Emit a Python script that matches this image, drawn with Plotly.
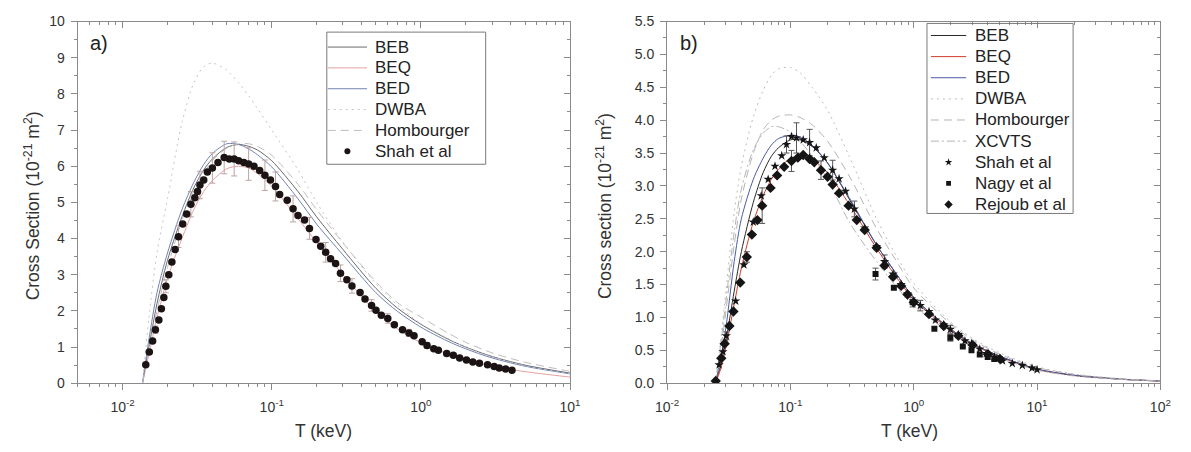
import math
import plotly.graph_objects as go

W, H = 1191, 452

# ---------------- Panel a) : theory curves ----------------
t_a = [0.0136, 0.015, 0.017, 0.02, 0.025, 0.03, 0.035, 0.04, 0.05, 0.06, 0.07, 0.08,
       0.1, 0.15, 0.2, 0.3, 0.5, 0.7, 1.0, 1.5, 2.0, 3.0, 5.0, 10.0]
beb_a = [0, 1.0, 2.2, 3.4, 4.6, 5.4, 5.9, 6.2, 6.52, 6.6, 6.55, 6.45,
         6.15, 5.3, 4.6, 3.7, 2.62, 2.07, 1.63, 1.23, 1.0, 0.74, 0.5, 0.28]
beq_a = [0, 0.8, 1.8, 2.9, 4.0, 4.8, 5.3, 5.6, 5.93, 6.0, 5.95, 5.8,
         5.45, 4.55, 3.9, 3.0, 1.98, 1.5, 1.12, 0.82, 0.65, 0.47, 0.32, 0.17]
bed_a = [0, 1.2, 2.5, 3.6, 4.8, 5.55, 6.05, 6.35, 6.62, 6.6, 6.48, 6.32,
         5.98, 5.1, 4.4, 3.55, 2.5, 1.98, 1.55, 1.17, 0.95, 0.7, 0.47, 0.26]
dwba_a = [0, 1.8, 3.6, 5.1, 7.2, 8.3, 8.75, 8.85, 8.65, 8.3, 7.95, 7.6,
          7.0, 5.9, 5.0, 3.9, 2.75, 2.15, 1.65, 1.25, 0.99, 0.73, 0.48, 0.26]
homb_a = [0, 0.9, 2.0, 3.2, 4.5, 5.3, 5.8, 6.15, 6.5, 6.62, 6.62, 6.55,
          6.3, 5.5, 4.8, 3.88, 2.8, 2.22, 1.83, 1.4, 1.13, 0.84, 0.58, 0.33]

# Panel a) : Shah et al data
shah_a_t = [0.0143, 0.0151, 0.0159, 0.0166, 0.0175, 0.0182, 0.0189, 0.0195, 0.0204, 0.0214,
            0.0225, 0.0237, 0.0253, 0.0269, 0.0287, 0.0305, 0.0318, 0.033, 0.035, 0.037,
            0.040, 0.0436, 0.048, 0.052, 0.056, 0.060, 0.065, 0.070, 0.076, 0.083,
            0.090, 0.098, 0.106, 0.113, 0.127, 0.139, 0.150, 0.166, 0.179, 0.198,
            0.213, 0.230, 0.248, 0.268, 0.289, 0.319, 0.345, 0.391, 0.422, 0.467,
            0.50, 0.543, 0.60, 0.664, 0.753, 0.832, 0.90, 1.02, 1.10, 1.22,
            1.31, 1.49, 1.65, 1.82, 2.02, 2.23, 2.47, 2.80, 3.10, 3.35, 3.70, 4.08]
shah_a_s = [0.51, 0.86, 1.17, 1.48, 1.75, 2.06, 2.37, 2.68, 3.0, 3.35,
            3.7, 4.05, 4.4, 4.68, 4.95, 5.13, 5.3, 5.48, 5.62, 5.84,
            5.95, 6.1, 6.24, 6.2, 6.2, 6.15, 6.1, 6.06, 6.0, 5.88,
            5.75, 5.62, 5.44, 5.22, 5.06, 4.82, 4.64, 4.51, 4.28, 3.97,
            3.79, 3.62, 3.44, 3.31, 3.04, 2.86, 2.69, 2.51, 2.33, 2.15,
            2.02, 1.88, 1.79, 1.62, 1.48, 1.39, 1.31, 1.15, 1.04, 0.95,
            0.91, 0.82, 0.77, 0.70, 0.64, 0.59, 0.55, 0.51, 0.46, 0.42, 0.39, 0.36]
shah_a_err = [0, 0, 0, 0.1, 0, 0, 0, 0.18, 0, 0,
              0, 0.3, 0, 0, 0.35, 0, 0, 0.38, 0, 0,
              0.42, 0, 0.45, 0, 0.47, 0, 0, 0.45, 0, 0,
              0.42, 0, 0.4, 0, 0, 0.36, 0, 0, 0.3, 0,
              0, 0.27, 0, 0, 0.23, 0, 0.2, 0, 0, 0.16,
              0, 0, 0.13, 0, 0, 0.1, 0, 0, 0.08, 0,
              0, 0.06, 0, 0, 0.05, 0, 0, 0.04, 0, 0, 0.03, 0]

# ---------------- Panel b) : theory curves ----------------
t_b = [0.0246, 0.027, 0.03, 0.035, 0.04, 0.05, 0.06, 0.07, 0.08, 0.1, 0.12, 0.15,
       0.2, 0.3, 0.5, 0.7, 1.0, 2.0, 3.0, 5.0, 10.0, 20.0, 50.0, 100.0]
beb_b = [0, 0.25, 0.65, 1.4, 2.0, 2.75, 3.2, 3.45, 3.58, 3.7, 3.7, 3.6,
         3.35, 2.8, 2.1, 1.7, 1.3, 0.82, 0.6, 0.41, 0.215, 0.12, 0.06, 0.034]
beq_b = [0, 0.2, 0.55, 1.2, 1.75, 2.45, 2.85, 3.1, 3.25, 3.42, 3.45, 3.4,
         3.2, 2.72, 2.05, 1.65, 1.27, 0.8, 0.59, 0.4, 0.21, 0.118, 0.058, 0.033]
bed_b = [0, 0.35, 0.85, 1.85, 2.5, 3.1, 3.42, 3.62, 3.72, 3.77, 3.74, 3.62,
         3.35, 2.82, 2.1, 1.7, 1.3, 0.82, 0.6, 0.41, 0.215, 0.12, 0.06, 0.034]
dwba_b = [0, 0.6, 1.4, 2.6, 3.3, 4.05, 4.45, 4.68, 4.78, 4.8, 4.72, 4.5,
          4.15, 3.45, 2.5, 1.98, 1.52, 0.93, 0.68, 0.46, 0.25, 0.14, 0.067, 0.037]
homb_b = [0, 0.45, 1.1, 2.1, 2.8, 3.5, 3.85, 4.0, 4.06, 4.08, 4.04, 3.93,
          3.68, 3.15, 2.35, 1.9, 1.45, 0.9, 0.66, 0.44, 0.24, 0.135, 0.065, 0.036]
xcvts_b = [0, 0.55, 1.25, 2.3, 2.95, 3.55, 3.8, 3.9, 3.9, 3.82, 3.68, 3.45,
           3.1, 2.45, 1.85, 1.5, 1.18, 0.76, 0.56, 0.38, 0.2, 0.11, 0.055, 0.031]

# Panel b) : experimental data
shah_b_t = [0.0264, 0.0284, 0.0302, 0.036, 0.042, 0.050, 0.058, 0.066, 0.075, 0.085,
            0.093, 0.102, 0.112, 0.127, 0.143, 0.162, 0.188, 0.22, 0.248, 0.28,
            0.33, 0.40, 0.50, 0.58, 0.68, 0.79, 0.89, 1.0, 1.13, 1.33,
            1.50, 1.75, 1.98, 2.30, 2.60, 2.94, 3.43, 3.87, 4.5, 5.25,
            6.3, 7.6, 9.1, 10.0]
shah_b_s = [0.28, 0.48, 0.72, 1.25, 1.8, 2.45, 2.85, 3.1, 3.3, 3.46,
            3.63, 3.75, 3.73, 3.70, 3.66, 3.58, 3.43, 3.24, 3.11, 2.92,
            2.65, 2.36, 2.08, 1.85, 1.66, 1.5, 1.36, 1.25, 1.18, 1.09,
            0.96, 0.89, 0.82, 0.74, 0.645, 0.6, 0.52, 0.45, 0.40, 0.34,
            0.30, 0.27, 0.23, 0.205]
shah_b_err = [0, 0, 0.06, 0, 0, 0, 0, 0, 0, 0,
              0.13, 0, 0.23, 0, 0.2, 0, 0, 0.15, 0, 0,
              0.12, 0, 0, 0.1, 0, 0, 0, 0, 0.08, 0,
              0, 0, 0.06, 0, 0, 0, 0, 0, 0.04, 0,
              0, 0, 0, 0]
nagy_b_t = [0.49, 0.69, 0.98, 1.47, 1.98, 2.5, 2.94, 3.43, 3.98, 4.5]
nagy_b_s = [1.66, 1.45, 1.23, 0.83, 0.69, 0.56, 0.50, 0.435, 0.40, 0.37]
nagy_b_err = [0.09, 0, 0.07, 0, 0.05, 0, 0, 0, 0, 0]
rej_b_t = [0.0248, 0.0275, 0.0293, 0.032, 0.0345, 0.0392, 0.0443, 0.0487, 0.054, 0.059,
           0.069, 0.078, 0.089, 0.102, 0.115, 0.127, 0.143, 0.156, 0.177, 0.20,
           0.22, 0.248, 0.296, 0.345, 0.40, 0.50, 0.58, 0.68, 0.79, 0.89,
           1.0, 1.33, 1.75, 2.3, 3.0, 4.0, 5.0]
rej_b_s = [0.034, 0.38, 0.60, 0.87, 1.09, 1.53, 1.92, 2.26, 2.48, 2.70,
           2.97, 3.16, 3.29, 3.38, 3.43, 3.47, 3.41, 3.36, 3.24, 3.14,
           3.02, 2.89, 2.70, 2.48, 2.33, 2.06, 1.79, 1.62, 1.48, 1.35,
           1.23, 1.05, 0.87, 0.72, 0.58, 0.44, 0.37]
rej_b_err = [0, 0, 0, 0, 0, 0, 0.08, 0, 0, 0.27,
             0, 0, 0, 0.16, 0, 0, 0, 0, 0.14, 0,
             0, 0, 0, 0, 0, 0, 0, 0, 0, 0,
             0, 0, 0, 0, 0, 0, 0]

# tick labels
xt_a = [0.01, 0.1, 1, 10]
xl_a = ['10<sup>-2</sup>', '10<sup>-1</sup>', '10<sup>0</sup>', '10<sup>1</sup>']
xt_b = [0.01, 0.1, 1, 10, 100]
xl_b = ['10<sup>-2</sup>', '10<sup>-1</sup>', '10<sup>0</sup>', '10<sup>1</sup>', '10<sup>2</sup>']

FONT = 'Liberation Sans, Arial, sans-serif'
AX = '#8a8a8a'
TXT = '#333333'

DOT = '2px,4px'
DASH = '8px,5px'
DASHDOT = '8px,3px,2px,3px'

# series style definitions: (name, kind, color, dash/symbol, size)
style_a = [
    ('BEB', 'line', '#6a6a6a', 'solid', 0),
    ('BEQ', 'line', '#e6a0a0', 'solid', 0),
    ('BED', 'line', '#7282b4', 'solid', 0),
    ('DWBA', 'line', '#c4c4c4', DOT, 0),
    ('Hombourger', 'line', '#bdbdbd', DASH, 0),
    ('Shah et al', 'marker', '#1c1414', 'circle', 7.5),
]
style_b = [
    ('BEB', 'line', '#2a2a2a', 'solid', 0),
    ('BEQ', 'line', '#cf3b2c', 'solid', 0),
    ('BED', 'line', '#4a5aa6', 'solid', 0),
    ('DWBA', 'line', '#bcbcbc', DOT, 0),
    ('Hombourger', 'line', '#b4b4b4', DASH, 0),
    ('XCVTS', 'line', '#b4b4b4', DASHDOT, 0),
    ('Shah et al', 'marker', '#151515', 'star', 7),
    ('Nagy et al', 'marker', '#151515', 'square', 6),
    ('Rejoub et al', 'marker', '#151515', 'diamond', 8),
]
series_a = [(t_a, beb_a), (t_a, beq_a), (t_a, bed_a), (t_a, dwba_a), (t_a, homb_a), (shah_a_t, shah_a_s)]
series_b = [(t_b, beb_b), (t_b, beq_b), (t_b, bed_b), (t_b, dwba_b), (t_b, homb_b), (t_b, xcvts_b),
            (shah_b_t, shah_b_s), (nagy_b_t, nagy_b_s), (rej_b_t, rej_b_s)]
errs_a = [None, None, None, None, None, shah_a_err]
errs_b = [None, None, None, None, None, None, shah_b_err, nagy_b_err, rej_b_err]

fig = go.Figure()


def errtrace(x, y, e, color, xa, ya):
    xs = [a for a, c in zip(x, e) if c]
    ys = [b for b, c in zip(y, e) if c]
    es = [c for c in e if c]
    fig.add_trace(go.Scatter(x=xs, y=ys, mode='markers', xaxis=xa, yaxis=ya, showlegend=False,
                             hoverinfo='skip', marker=dict(size=2, color='rgba(0,0,0,0)'),
                             error_y=dict(type='data', array=es, visible=True, color=color,
                                          thickness=1, width=3)))


def add_panel(styles, series, errs, xa, ya, errcolor):
    for (name, kind, color, sty, size), (x, y) in zip(styles, series):
        if kind == 'line':
            fig.add_trace(go.Scatter(x=x, y=y, mode='lines', name=name, xaxis=xa, yaxis=ya,
                                     line=dict(color=color, width=1, dash=sty, shape='spline', smoothing=0.8)))
    for (name, kind, color, sty, size), (x, y), e in zip(styles, series, errs):
        if e is not None:
            errtrace(x, y, e, errcolor, xa, ya)
    for (name, kind, color, sty, size), (x, y) in zip(styles, series):
        if kind == 'marker':
            fig.add_trace(go.Scatter(x=x, y=y, mode='markers', name=name, xaxis=xa, yaxis=ya,
                                     marker=dict(symbol=sty, size=size, color=color)))


add_panel(style_a, series_a, errs_a, 'x', 'y', '#bca4a4')
add_panel(style_b, series_b, errs_b, 'x2', 'y2', '#555555')

# dummy traces for mirrored tick axes
for xa, ya in (('x3', 'y3'), ('x4', 'y4')):
    fig.add_trace(go.Scatter(x=[], y=[], xaxis=xa, yaxis=ya, showlegend=False, hoverinfo='skip'))

# ---------------- legends (drawn in a pixel-space helper axis) ----------------
LEG_FONT = dict(family=FONT, size=17, color='#222222')
legend_boxes = [
    # box (left, top, right, bottom), first row centre, row step, sample x-range, text x
    (style_a, (321, 25, 483, 162), 40.5, 21.6, (322, 362), 368),
    (style_b, (933, 16, 1082, 213), 28.5, 21.9, (937, 973), 980),
]
for styles, (bl, bt, br, bb), r0, dy, (sx0, sx1), tx in legend_boxes:
    fig.add_shape(type='rect', xref='paper', yref='paper', x0=bl / W, x1=br / W,
                  y0=1 - bb / H, y1=1 - bt / H, line=dict(color='#7a7a7a', width=1),
                  fillcolor='rgba(0,0,0,0)', layer='above')
    for i, (name, kind, color, sty, size) in enumerate(styles):
        yc = r0 + i * dy
        if kind == 'line':
            fig.add_trace(go.Scatter(x=[sx0, sx1], y=[yc, yc], mode='lines', xaxis='x5', yaxis='y5',
                                     showlegend=False, hoverinfo='skip',
                                     line=dict(color=color, width=1, dash=sty)))
        else:
            fig.add_trace(go.Scatter(x=[(sx0 + sx1) / 2], y=[yc], mode='markers', xaxis='x5', yaxis='y5',
                                     showlegend=False, hoverinfo='skip',
                                     marker=dict(symbol=sty, size=size * 0.8, color=color)))
        fig.add_annotation(text=name, x=tx / W, y=1 - yc / H, xref='paper', yref='paper',
                           xanchor='left', yanchor='middle', showarrow=False, font=LEG_FONT)

# ---------------- geometry ----------------
xa_dom = [67 / W, 569 / W]
xb_dom = [668 / W, 1171 / W]
y_dom = [1 - 389 / H, 1 - 14 / H]


def minor_log(lo, hi):
    vals = []
    for d in range(lo, hi):
        for m in range(2, 10):
            vals.append(m * 10 ** d)
    return vals


tf = dict(family=FONT, size=14, color=TXT)


def xaxis(dom, rng, tv, tl, mv, anchor, main=True, overlay=None):
    d = dict(type='log', domain=dom, range=rng, anchor=anchor, showgrid=False, zeroline=False,
             tickmode='array', tickvals=tv, ticktext=tl, tickcolor=AX, tickwidth=1, ticklen=6,
             tickfont=tf, minor=dict(tickmode='array', tickvals=mv, ticklen=3, tickcolor=AX, showgrid=False))
    if main:
        d.update(showline=True, linecolor=AX, linewidth=1, mirror=True, ticks='outside',
                 ticklabelstandoff=5)
        d['minor']['ticks'] = 'outside'
    else:
        d.update(showline=False, overlaying=overlay, side='top', ticks='inside', showticklabels=False)
        d['minor']['ticks'] = 'inside'
    return d


def yaxis(dom, rng, dt, mdt, fmt, anchor, main=True, overlay=None):
    d = dict(domain=dom, range=rng, anchor=anchor, showgrid=False, zeroline=False, dtick=dt, tick0=0,
             tickformat=fmt, tickcolor=AX, tickwidth=1, ticklen=6, tickfont=tf,
             minor=dict(dtick=mdt, tick0=0, ticklen=3, tickcolor=AX, showgrid=False))
    if main:
        d.update(showline=True, linecolor=AX, linewidth=1, mirror=True, ticks='outside',
                 ticklabelstandoff=3)
        d['minor']['ticks'] = 'outside'
    else:
        d.update(showline=False, overlaying=overlay, side='right', ticks='inside', showticklabels=False)
        d['minor']['ticks'] = 'inside'
    return d


rng_a = [math.log10(0.005), 1]
rng_b = [-2, 2]

fig.update_layout(
    width=W, height=H, margin=dict(l=0, r=0, t=0, b=0),
    paper_bgcolor='white', plot_bgcolor='rgba(0,0,0,0)',
    font=dict(family=FONT, color=TXT),
    showlegend=False,
    xaxis=xaxis(xa_dom, rng_a, xt_a, xl_a, minor_log(-3, 1), 'y'),
    yaxis=yaxis(y_dom, [0, 10], 1, 0.5, 'd', 'x'),
    xaxis3=xaxis(xa_dom, rng_a, xt_a, xl_a, minor_log(-3, 1), 'y', main=False, overlay='x'),
    yaxis3=yaxis(y_dom, [0, 10], 1, 0.5, 'd', 'x', main=False, overlay='y'),
    xaxis2=xaxis(xb_dom, rng_b, xt_b, xl_b, minor_log(-2, 2), 'y2'),
    yaxis2=yaxis(y_dom, [0, 5.5], 0.5, 0.25, '.1f', 'x2'),
    xaxis4=xaxis(xb_dom, rng_b, xt_b, xl_b, minor_log(-2, 2), 'y2', main=False, overlay='x2'),
    yaxis4=yaxis(y_dom, [0, 5.5], 0.5, 0.25, '.1f', 'x2', main=False, overlay='y2'),
    xaxis5=dict(domain=[0, 1], range=[0, W], anchor='y5', visible=False, fixedrange=True),
    yaxis5=dict(domain=[0, 1], range=[H, 0], anchor='x5', visible=False, fixedrange=True),
)

ann_font = dict(family=FONT, size=17.5, color=TXT)
fig.add_annotation(text='a)', x=77 / W, y=1 - 36 / H, xref='paper', yref='paper', xanchor='left',
                   yanchor='middle', showarrow=False, font=dict(family=FONT, size=20, color='#222'))
fig.add_annotation(text='b)', x=679 / W, y=1 - 36 / H, xref='paper', yref='paper', xanchor='left',
                   yanchor='middle', showarrow=False, font=dict(family=FONT, size=20, color='#222'))
fig.add_annotation(text='Cross Section (10<sup>-21</sup> m<sup>2</sup>)', textangle=-90, x=20 / W,
                   y=1 - 205 / H, xref='paper', yref='paper', xanchor='center', yanchor='middle',
                   showarrow=False, font=ann_font)
fig.add_annotation(text='Cross section (10<sup>-21</sup> m<sup>2</sup>)', textangle=-90, x=603 / W,
                   y=1 - 205 / H, xref='paper', yref='paper', xanchor='center', yanchor='middle',
                   showarrow=False, font=ann_font)
fig.add_annotation(text='T (keV)', x=318 / W, y=1 - 439 / H, xref='paper', yref='paper',
                   xanchor='center', yanchor='middle', showarrow=False, font=ann_font)
fig.add_annotation(text='T (keV)', x=915 / W, y=1 - 439 / H, xref='paper', yref='paper',
                   xanchor='center', yanchor='middle', showarrow=False, font=ann_font)

fig.write_html('out.html')
